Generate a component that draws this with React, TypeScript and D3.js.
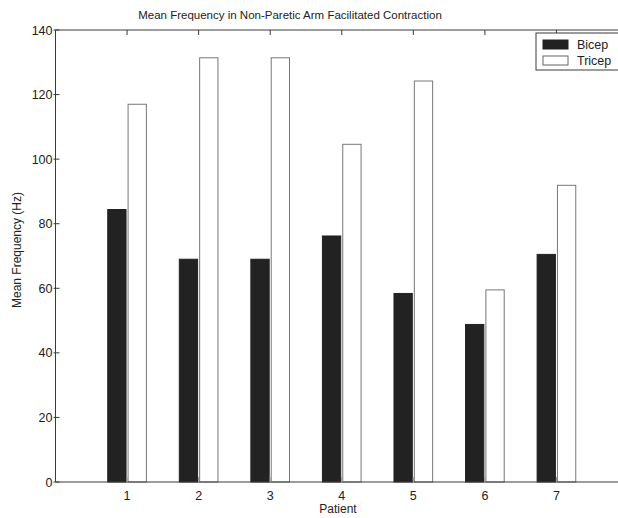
import React, { useRef, useEffect } from 'react';
import * as d3 from 'd3';

// data
const patients = [1, 2, 3, 4, 5, 6, 7];
const bicep = [84.4, 69.0, 69.0, 76.2, 58.4, 48.8, 70.5];
const tricep = [117.0, 131.4, 131.4, 104.6, 124.2, 59.5, 91.9];
const seriesNames = ['Bicep', 'Tricep'];
const yTicks = [0, 20, 40, 60, 80, 100, 120, 140];

const width = 618;
const height = 518;
const font = 'Arial, "Liberation Sans", Helvetica, sans-serif';
const axisColor = '#3a3a3a';

export default function App() {
  const ref = useRef(null);

  useEffect(() => {
    const svg = d3.select(ref.current);
    svg.selectAll('*').remove();

    // axes box: x from 0 to 8, the right side is cut off by the picture
    const x = d3.scaleLinear().domain([0, 8]).range([55.5, 628]);
    const y = d3.scaleLinear().domain([0, 140]).range([482, 30]);

    // bars of one group sit in [-0.27, 0.27] around the tick
    const groupHalf = 0.27;
    const gw = x(groupHalf) - x(0);
    const x1 = d3
      .scaleBand()
      .domain(seriesNames)
      .range([-gw, gw])
      .paddingInner(0.1);

    const rows = patients.map((p, i) => ({ p, values: [bicep[i], tricep[i]] }));

    // bars
    const g = svg.append('g');
    rows.forEach(r => {
      r.values.forEach((v, k) => {
        const name = seriesNames[k];
        g.append('rect')
          .attr('x', x(r.p) + x1(name))
          .attr('y', y(v))
          .attr('width', x1.bandwidth())
          .attr('height', y(0) - y(v))
          .attr('fill', k === 0 ? '#222' : '#fff')
          .attr('stroke', k === 0 ? '#222' : '#777')
          .attr('stroke-width', 1);
      });
    });

    // axes box lines
    const box = svg.append('g').attr('stroke', axisColor).attr('stroke-width', 1);
    box.append('line')
      .attr('x1', x(0)).attr('x2', x(8))
      .attr('y1', y(0)).attr('y2', y(0));
    box.append('line')
      .attr('x1', x(0)).attr('x2', x(8))
      .attr('y1', y(140)).attr('y2', y(140));
    box.append('line')
      .attr('x1', x(0)).attr('x2', x(0))
      .attr('y1', y(0)).attr('y2', y(140));

    // x ticks, inward top and bottom
    patients.forEach(p => {
      box.append('line')
        .attr('x1', x(p)).attr('x2', x(p))
        .attr('y1', y(0)).attr('y2', y(0) - 5)
        .attr('stroke', '#999');
      box.append('line')
        .attr('x1', x(p)).attr('x2', x(p))
        .attr('y1', y(140)).attr('y2', y(140) + 5);
    });

    // y ticks
    yTicks.forEach(t => {
      box.append('line')
        .attr('x1', x(0) - 2).attr('x2', x(0) + 4)
        .attr('y1', y(t)).attr('y2', y(t));
    });

    const text = svg.append('g').attr('font-family', font).attr('fill', '#222');

    text.selectAll('.xt')
      .data(patients)
      .enter()
      .append('text')
      .attr('x', d => x(d))
      .attr('y', y(0) + 18)
      .attr('text-anchor', 'middle')
      .attr('font-size', 12.5)
      .text(d => d);

    text.selectAll('.yt')
      .data(yTicks)
      .enter()
      .append('text')
      .attr('x', x(0) - 3)
      .attr('y', d => y(d) + 4.5)
      .attr('text-anchor', 'end')
      .attr('font-size', 12.5)
      .text(d => d);

    text.append('text')
      .attr('x', 290)
      .attr('y', 19)
      .attr('text-anchor', 'middle')
      .attr('font-size', 11.5)
      .text('Mean Frequency in Non-Paretic Arm Facilitated Contraction');

    text.append('text')
      .attr('x', 338)
      .attr('y', 513)
      .attr('text-anchor', 'middle')
      .attr('font-size', 12)
      .text('Patient');

    text.append('text')
      .attr('transform', `translate(21, ${(y(0) + y(140)) / 2 - 6}) rotate(-90)`)
      .attr('text-anchor', 'middle')
      .attr('font-size', 12)
      .text('Mean Frequency (Hz)');

    // legend
    const lg = svg.append('g');
    lg.append('rect')
      .attr('x', 536).attr('y', 33)
      .attr('width', 100).attr('height', 37)
      .attr('fill', '#fff')
      .attr('stroke', axisColor);
    seriesNames.forEach((name, k) => {
      lg.append('rect')
        .attr('x', 543).attr('y', 40 + k * 16)
        .attr('width', 25).attr('height', 9)
        .attr('fill', k === 0 ? '#222' : '#fff')
        .attr('stroke', k === 0 ? '#222' : '#666');
      lg.append('text')
        .attr('x', 577).attr('y', 49 + k * 16)
        .attr('font-family', font)
        .attr('font-size', 12.5)
        .attr('fill', '#222')
        .text(name);
    });
  }, []);

  return (
    <svg
      ref={ref}
      width={width}
      height={height}
      style={{ position: 'absolute', left: 0, top: 0, background: '#fff' }}
    />
  );
}
